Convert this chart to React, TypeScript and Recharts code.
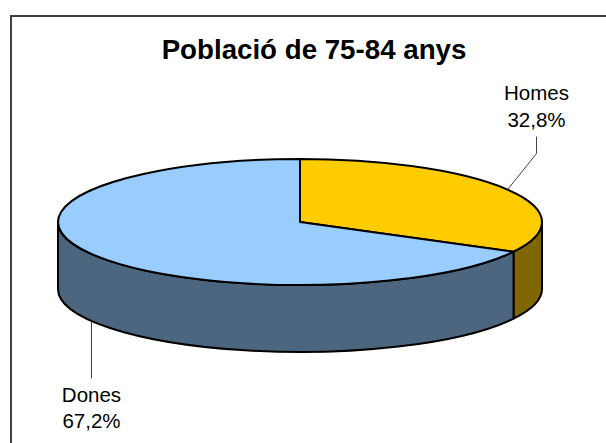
import { PieChart, Pie } from 'recharts';

const categories = ['Homes', 'Dones'];
const shares = [32.8, 67.2];
const topColors = ['#FFCC00', '#99CCFF'];
const sideColors = ['#806600', '#4D6680'];
const chartTitle = 'Població de 75-84 anys';

const data = categories.map((name, i) => ({ name, value: shares[i] }));

const tilt = 63 / 242; // ellipse ratio of the tilted disc
const depth = 67;
const font = '"Liberation Sans", Arial, sans-serif';

const RAD = Math.PI / 180;

const pointAt = (cx: number, cy: number, r: number, deg: number) => ({
  x: cx + r * Math.cos(deg * RAD),
  y: cy - r * tilt * Math.sin(deg * RAD),
});

function DiscSlice(props: any) {
  const { cx, cy, outerRadius: r, startAngle, endAngle, index } = props;
  const i = categories.indexOf(props.name);
  const idx = i >= 0 ? i : index;
  const ry = r * tilt;
  const a = pointAt(cx, cy, r, startAngle);
  const b = pointAt(cx, cy, r, endAngle);
  const large = Math.abs(startAngle - endAngle) > 180 ? 1 : 0;

  // only the front half of the rim can be seen
  const wallFrom = Math.min(startAngle, 0);
  const wallTo = Math.max(endAngle, -180);
  let wall = null;
  if (wallFrom > wallTo) {
    const p = pointAt(cx, cy, r, wallFrom);
    const q = pointAt(cx, cy, r, wallTo);
    wall = (
      <path
        d={`M${p.x},${p.y} A${r},${ry} 0 0 1 ${q.x},${q.y} L${q.x},${q.y + depth} A${r},${ry} 0 0 0 ${p.x},${p.y + depth} Z`}
        fill={sideColors[idx]}
        stroke="#000"
        strokeWidth={2}
        strokeLinejoin="round"
      />
    );
  }

  return (
    <g>
      {wall}
      <path
        d={`M${cx},${cy} L${a.x},${a.y} A${r},${ry} 0 ${large} 1 ${b.x},${b.y} Z`}
        fill={topColors[idx]}
        stroke="#000"
        strokeWidth={2}
        strokeLinejoin="round"
      />
    </g>
  );
}

function SliceLabel(props: any) {
  const { cx, cy, outerRadius: r, midAngle, name, value } = props;
  const text = `${value.toFixed(1).replace('.', ',')}%`;
  const start = pointAt(cx, cy, r, midAngle);
  const isFront = Math.sin(midAngle * RAD) < 0;

  if (isFront) {
    const y0 = start.y + depth;
    const x0 = Math.round(start.x) - 0.5;
    return (
      <g fontFamily={font} fontSize={20.5} fill="#000" textAnchor="middle">
        <path d={`M${x0},${y0} L${x0},${y0 + 57}`} stroke="#404040" strokeWidth={1} fill="none" />
        <text x={x0} y={y0 + 81}>{name}</text>
        <text x={x0} y={y0 + 107}>{text}</text>
      </g>
    );
  }
  return (
    <g fontFamily={font} fontSize={20.5} fill="#000" textAnchor="middle">
      <path
        d={`M${start.x},${start.y} L${start.x + 29},${start.y - 36} L${start.x + 29},${start.y - 53}`}
        stroke="#404040"
        strokeWidth={1}
        fill="none"
      />
      <text x={start.x + 29} y={start.y - 90}>{name}</text>
      <text x={start.x + 29} y={start.y - 63}>{text}</text>
    </g>
  );
}

export default function App() {
  return (
    <div style={{ position: 'absolute', left: 0, top: 0, width: 606, height: 443, overflow: 'hidden', background: '#fff' }}>
      <div
        style={{
          position: 'absolute',
          left: 10,
          top: 15,
          width: 700,
          height: 600,
          border: '2px solid #404040',
          boxSizing: 'border-box',
        }}
      />
      <div style={{ position: 'absolute', left: 0, top: 0 }}>
        <PieChart width={606} height={443} margin={{ top: 0, right: 0, bottom: 0, left: 0 }}>
          <text x={314} y={59} textAnchor="middle" fontFamily={font} fontWeight="bold" fontSize={27.7} fill="#000">
            {chartTitle}
          </text>
          <Pie
            data={data}
            dataKey="value"
            nameKey="name"
            cx={300}
            cy={222}
            outerRadius={242}
            startAngle={90}
            endAngle={-270}
            isAnimationActive={false}
            shape={DiscSlice}
            label={SliceLabel}
            labelLine={false}
          />
        </PieChart>
      </div>
    </div>
  );
}
